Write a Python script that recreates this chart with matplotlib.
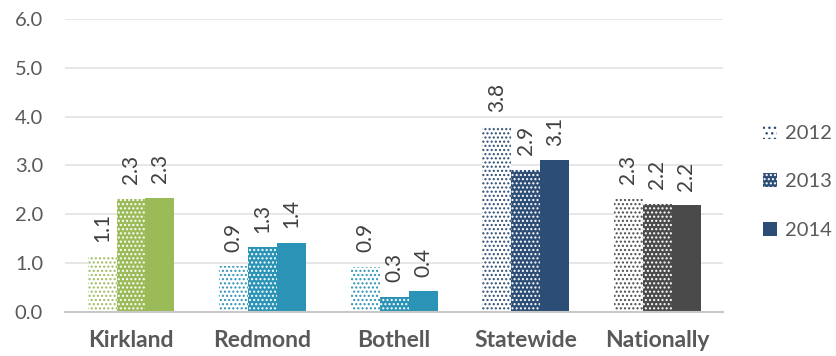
import matplotlib.pyplot as plt
import numpy as np
from matplotlib.patches import Patch

# data
categories = ["Kirkland", "Redmond", "Bothell", "Statewide", "Nationally"]
years = ["2012", "2013", "2014"]
v2012 = [1.13, 0.93, 0.92, 3.80, 2.31]
v2013 = [2.31, 1.32, 0.31, 2.91, 2.21]
v2014 = [2.34, 1.41, 0.42, 3.10, 2.18]
cat_colors = ["#9BBB59", "#2B93B5", "#2B93B5", "#2C4D75", "#4A4A4A"]

plt.rcParams["font.family"] = ["Lato", "DejaVu Sans"]
plt.rcParams["hatch.linewidth"] = 1.0

fig = plt.figure(figsize=(8.36, 3.56), dpi=100)
ax = fig.add_axes([0.078, 0.124, 0.787, 0.823])

x = np.arange(len(categories))
w = 0.22
text_col = "#595959"

series = [v2012, v2013, v2014]
for i, vals in enumerate(series):
    off = (i - 1) * w
    for j, v in enumerate(vals):
        c = cat_colors[j]
        if i == 0:
            ax.bar(x[j] + off, v, w, facecolor="white", edgecolor=c,
                   hatch="....", linewidth=0, zorder=2)
        elif i == 1:
            ax.bar(x[j] + off, v, w, facecolor=c, edgecolor="white",
                   hatch="....", linewidth=0, zorder=2)
        else:
            ax.bar(x[j] + off, v, w, facecolor=c, linewidth=0, zorder=2)
        ax.text(x[j] + off, v + 0.3, f"{v:.1f}", rotation=90, ha="center",
                va="bottom", fontsize=15, color="#404040")

ax.set_xlim(-0.5, len(categories) - 0.5)
ax.set_ylim(0, 6)
ax.set_yticks(np.arange(0, 6.1, 1.0))
ax.set_yticklabels([f"{t:.1f}" for t in np.arange(0, 6.1, 1.0)])
ax.set_xticks(x)
ax.set_xticklabels(categories, fontweight="bold", fontsize=16.5)
ax.tick_params(axis="both", length=0, colors=text_col)
ax.tick_params(axis="y", labelsize=14.5, pad=16)
ax.tick_params(axis="x", pad=13)
ax.grid(axis="y", color="#E3E3E3", linewidth=1.2, zorder=0)
ax.set_axisbelow(True)
for s in ["top", "right", "left"]:
    ax.spines[s].set_visible(False)
ax.spines["bottom"].set_color("#C8C8C8")
ax.spines["bottom"].set_linewidth(1.5)

navy = "#2C4D75"
handles = [
    Patch(facecolor="white", edgecolor=navy, hatch="...", linewidth=0),
    Patch(facecolor=navy, edgecolor="white", hatch="....", linewidth=0),
    Patch(facecolor=navy, linewidth=0),
]
leg = fig.legend(handles, years, loc="center left", bbox_to_anchor=(0.913, 0.489),
                 frameon=False, fontsize=14.5, handlelength=0.7, handleheight=0.7,
                 handletextpad=0.4, labelspacing=1.55, labelcolor=text_col,
                 borderpad=0, borderaxespad=0)

fig.savefig("out.png", dpi=100)
